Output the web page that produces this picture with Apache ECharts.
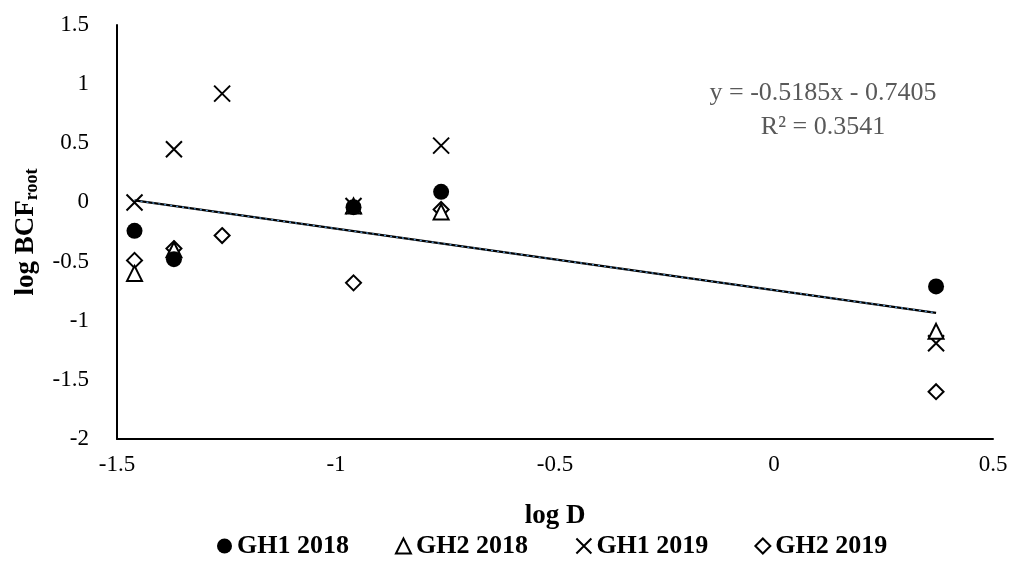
<!DOCTYPE html>
<html>
<head>
<meta charset="utf-8">
<title>log BCF root vs log D</title>
<script src="https://cdn.jsdelivr.net/npm/echarts@6/dist/echarts.min.js"></script>
<style>
  html, body { margin: 0; padding: 0; background: #fff; }
  #chart { width: 1027px; height: 565px; }
</style>
</head>
<body>
<div id="chart"></div>
<script>
// x positions (log D) and series values (log BCF root)
var logD = [-1.46, -1.37, -1.26, -0.96, -0.76, 0.37];
var gh1_2018 = [-0.24, -0.48, null, -0.04, 0.09, -0.71];
var gh2_2018 = [-0.60, -0.40, null, -0.03, -0.08, -1.09];
var gh1_2019 = [0.00, 0.45, 0.92, -0.03, 0.48, -1.19];
var gh2_2019 = [-0.49, -0.39, -0.28, -0.68, -0.06, -1.60];
var trendX = [-1.46, 0.37];
var trendY = [0.017, -0.933];
var xTicks = [-1.5, 0.5, 0.5];   // min, max, interval
var yTicks = [-2, 1.5, 0.5];

var FONT = '"Liberation Serif", "DejaVu Serif", serif';
var crossPath = 'path://M0,0L10,10M10,0L0,10';

function pairs(xs, ys) {
  var out = [];
  for (var i = 0; i < xs.length; i++) {
    if (ys[i] !== null) out.push([xs[i], ys[i]]);
  }
  return out;
}

var myChart = echarts.init(document.getElementById('chart'));
var option = {
  animation: false,
  textStyle: { fontFamily: FONT },
  grid: { left: 117, right: 34, top: 25, bottom: 126 },
  legend: {
    bottom: 1,
    left: 212,
    itemGap: 46,
    itemWidth: 15,
    itemHeight: 15,
    textStyle: { fontFamily: FONT, fontSize: 26, fontWeight: 'bold', color: '#000' },
    data: [
      { name: 'GH1 2018', icon: 'circle' },
      { name: 'GH2 2018', icon: 'triangle' },
      { name: 'GH1 2019', icon: crossPath },
      { name: 'GH2 2019', icon: 'diamond' }
    ]
  },
  xAxis: {
    type: 'value',
    min: xTicks[0], max: xTicks[1], interval: xTicks[2],
    name: 'log D',
    nameLocation: 'middle',
    nameGap: 64,
    nameTextStyle: { fontFamily: FONT, fontSize: 27, fontWeight: 'bold', color: '#000' },
    axisLine: { onZero: false, lineStyle: { color: '#000', width: 2 } },
    axisTick: { show: false },
    splitLine: { show: false },
    axisLabel: { fontFamily: FONT, fontSize: 23, color: '#000', margin: 14 }
  },
  yAxis: {
    type: 'value',
    min: yTicks[0], max: yTicks[1], interval: yTicks[2],
    name: '{b|log BCF}{s|root}',
    nameLocation: 'middle',
    nameRotate: 90,
    nameGap: 74,
    nameTextStyle: {
      rich: {
        b: { fontFamily: FONT, fontSize: 27, fontWeight: 'bold', color: '#000' },
        s: { fontFamily: FONT, fontSize: 18, fontWeight: 'bold', color: '#000', verticalAlign: 'bottom', padding: [14, 0, 0, 0] }
      }
    },
    axisLine: { show: true, onZero: false, lineStyle: { color: '#000', width: 2 } },
    axisTick: { show: false },
    splitLine: { show: false },
    axisLabel: { fontFamily: FONT, fontSize: 23, color: '#000', margin: 28 }
  },
  graphic: [{
    type: 'text',
    x: 823,
    y: 76,
    style: {
      text: 'y = -0.5185x - 0.7405\nR² = 0.3541',
      fontFamily: FONT,
      fontSize: 26,
      fill: '#595959',
      align: 'center',
      lineHeight: 34
    }
  }],
  series: [
    {
      name: 'trend', type: 'line', data: pairs(trendX, trendY),
      symbol: 'none', silent: true, z: 1,
      lineStyle: { color: '#000', width: 2.2 }
    },
    {
      name: 'trend dots', type: 'line', data: pairs(trendX, trendY),
      symbol: 'none', silent: true, z: 1,
      lineStyle: { color: '#5b9bd5', width: 1.2, type: [2, 4] }
    },
    {
      name: 'GH2 2019', type: 'scatter', data: pairs(logD, gh2_2019),
      symbol: 'diamond', symbolSize: 15, z: 3,
      itemStyle: { color: '#fff', borderColor: '#000', borderWidth: 2, opacity: 1 }
    },
    {
      name: 'GH1 2019', type: 'scatter', data: pairs(logD, gh1_2019),
      symbol: crossPath, symbolSize: 16, z: 3,
      itemStyle: { color: 'none', borderColor: '#000', borderWidth: 2, opacity: 1 }
    },
    {
      name: 'GH2 2018', type: 'scatter', data: pairs(logD, gh2_2018),
      symbol: 'triangle', symbolSize: 15, z: 4,
      itemStyle: { color: '#fff', borderColor: '#000', borderWidth: 2, opacity: 1 }
    },
    {
      name: 'GH1 2018', type: 'scatter', data: pairs(logD, gh1_2018),
      symbol: 'circle', symbolSize: 16, z: 5,
      itemStyle: { color: '#000', opacity: 1 }
    }
  ]
};
myChart.setOption(option);
</script>
</body>
</html>
